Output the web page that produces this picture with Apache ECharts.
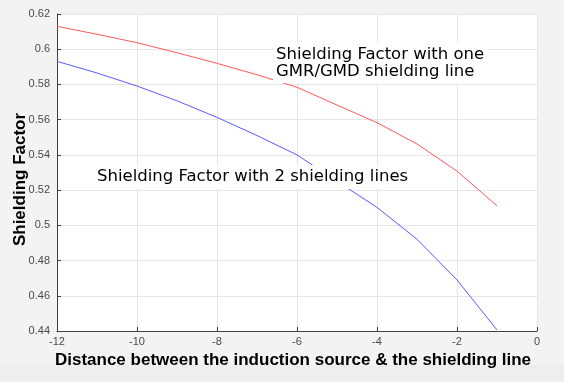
<!DOCTYPE html>
<html><head><meta charset="utf-8">
<script src="https://cdn.jsdelivr.net/npm/echarts@6/dist/echarts.min.js"></script>
<style>html,body{margin:0;padding:0;background:#eeeeee;}#c{width:564px;height:382px;}</style>
</head><body><div id="c"></div>
<script>
var xValues = [-12, -11, -10, -9, -8, -7, -6, -5, -4, -3, -2, -1];
var oneLine = [0.6130, 0.6085, 0.6037, 0.5980, 0.5920, 0.5855, 0.5784, 0.5683, 0.5583, 0.5462, 0.5308, 0.5111];
var twoLines = [0.5931, 0.5865, 0.5791, 0.5707, 0.5613, 0.5510, 0.5400, 0.5250, 0.5102, 0.4921, 0.4690, 0.4406];
var label1 = "Shielding Factor with one\nGMR/GMD shielding line";
var label2 = "Shielding Factor with 2 shielding lines";
var xName = "Distance between the induction source & the shielding line";
var yName = "Shielding Factor";

function pairs(ys){ return xValues.map(function(x,i){ return [x, ys[i]]; }); }

var chart = echarts.init(document.getElementById('c'));
var tickFont = {color:'#4a4a4a', fontSize:11, fontFamily:'Liberation Sans'};
chart.setOption({
  backgroundColor:'#eeeeee',
  animation:false,
  grid:{left:57, right:27, top:14, bottom:51, containLabel:false, outerBoundsMode:'none', show:true, backgroundColor:'#ffffff', borderWidth:0},
  xAxis:{type:'value', min:-12, max:0, interval:2,
    name:xName, nameLocation:'middle', nameGap:20,
    nameTextStyle:{fontFamily:'Liberation Sans', fontWeight:'bold', fontSize:17, color:'#000', padding:[0,8,0,0]},
    axisLine:{onZero:false, lineStyle:{color:'#404040'}},
    axisTick:{inside:true, length:4, lineStyle:{color:'#404040'}},
    axisLabel:Object.assign({margin:5}, tickFont),
    splitLine:{show:true, lineStyle:{color:'#e6e6e6'}}},
  yAxis:{type:'value', min:0.44, max:0.62, interval:0.02,
    name:yName, nameLocation:'middle', nameGap:28, nameMoveOverlap:false,
    nameTextStyle:{fontFamily:'Liberation Sans', fontWeight:'bold', fontSize:17, color:'#000', padding:[0,14,0,0]},
    axisLine:{show:true, onZero:false, lineStyle:{color:'#404040'}},
    axisTick:{show:true, inside:true, length:4, lineStyle:{color:'#404040'}},
    axisLabel:Object.assign({margin:7, formatter:function(v){return String(+v.toFixed(2));}}, tickFont),
    splitLine:{show:true, lineStyle:{color:'#e6e6e6'}}},
  series:[
    {type:'line', data:pairs(oneLine), symbol:'none', lineStyle:{color:'#ff5a5a', width:1}, z:2},
    {type:'line', data:pairs(twoLines), symbol:'none', lineStyle:{color:'#5a5aff', width:1}, z:2}
  ],
  graphic:[
    {type:'rect', left:0, top:0, z:-100, silent:true, shape:{width:564, height:365}, style:{fill:'#f3f3f3'}},
    {type:'text', left:273, top:43, z:100, style:{text:label1, font:'16.5px "DejaVu Sans"', fill:'#000', backgroundColor:'#ffffff', padding:[3,4,3,3], lineHeight:17}},
    {type:'text', left:93, top:165, z:100, style:{text:label2, font:'16.5px "DejaVu Sans"', fill:'#000', backgroundColor:'#ffffff', padding:[3,4,3,4], lineHeight:18}}
  ]
});
</script></body></html>
